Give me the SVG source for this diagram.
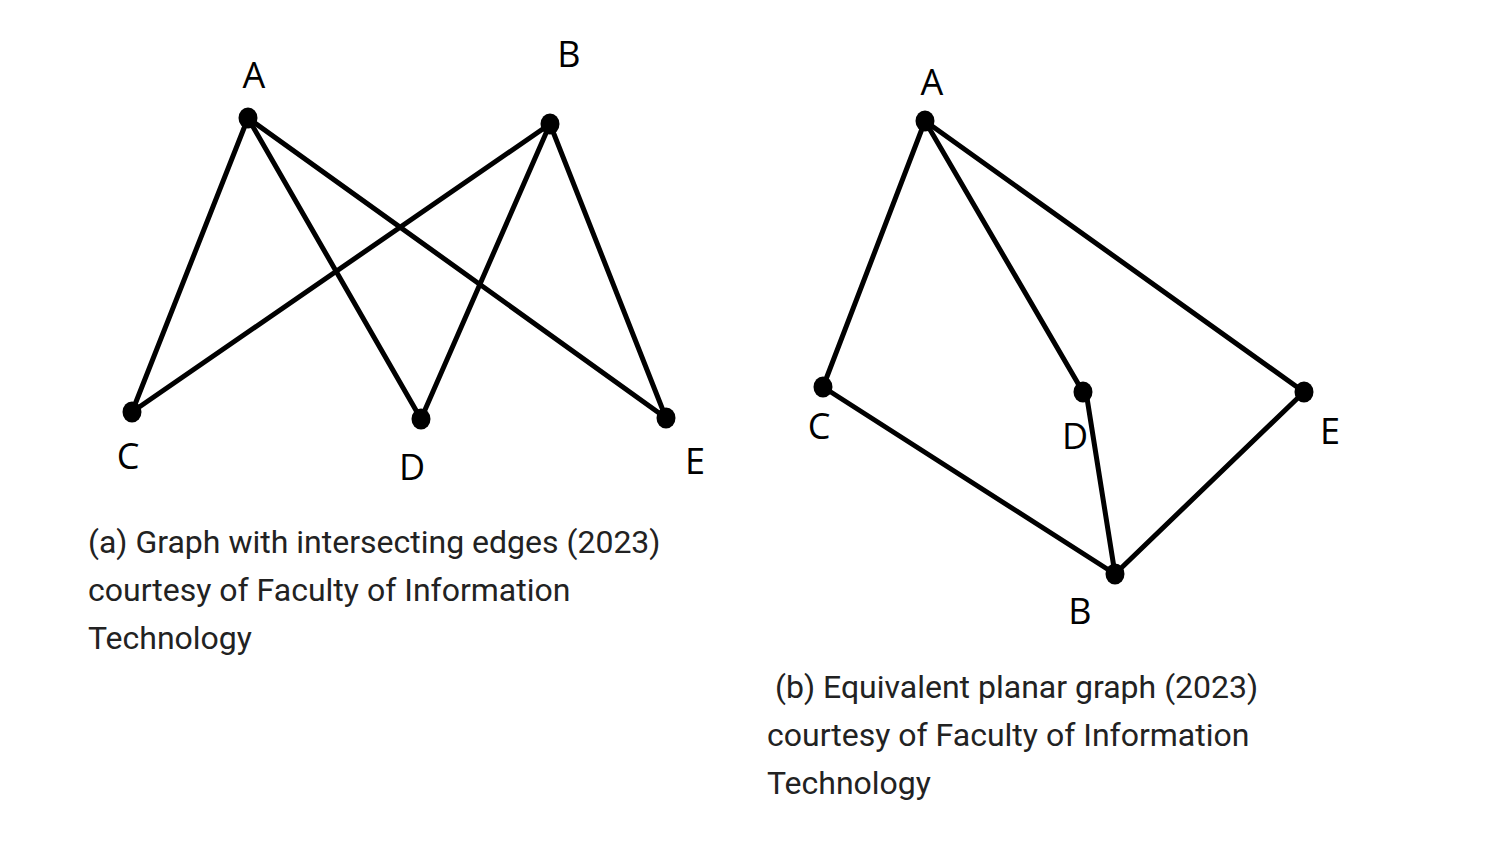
<svg xmlns="http://www.w3.org/2000/svg" width="1500" height="844" viewBox="0 0 1500 844">
<style>
.e{stroke:#000;stroke-width:5;fill:none;stroke-linecap:round}
.n{fill:#000}
.l{font-family:"Open Sans","DejaVu Sans",sans-serif;font-size:36px;fill:#000;text-anchor:middle}
.c{font-family:Roboto,"Liberation Sans",sans-serif;font-size:32px;fill:#222}
</style>
<rect width="1500" height="844" fill="#fff"/>
<g id="connectors">
<line class="e" x1="248" y1="118" x2="132" y2="412"/>
<line class="e" x1="248" y1="118" x2="421" y2="419"/>
<line class="e" x1="248" y1="118" x2="666" y2="418"/>
<line class="e" x1="550" y1="124" x2="132" y2="412"/>
<line class="e" x1="550" y1="124" x2="421" y2="419"/>
<line class="e" x1="550" y1="124" x2="666" y2="418"/>
<line class="e" x1="925" y1="121" x2="823" y2="387"/>
<line class="e" x1="925" y1="121" x2="1083" y2="392"/>
<line class="e" x1="925" y1="121" x2="1304" y2="392"/>
<line class="e" x1="823" y1="387" x2="1115" y2="574"/>
<line class="e" x1="1087" y1="398" x2="1115" y2="574"/>
<line class="e" x1="1304" y1="392" x2="1115" y2="574"/>
</g>
<g id="a-A"><ellipse class="n" cx="248" cy="118" rx="9.5" ry="10.5"/><text class="l" x="254" y="88">A</text></g>
<g id="a-B"><ellipse class="n" cx="550" cy="124" rx="9.5" ry="10.5"/><text class="l" x="569" y="67">B</text></g>
<g id="a-C"><ellipse class="n" cx="132" cy="412" rx="9.5" ry="10.5"/><text class="l" x="128" y="469">C</text></g>
<g id="a-D"><ellipse class="n" cx="421" cy="419" rx="9.5" ry="10.5"/><text class="l" x="412" y="480">D</text></g>
<g id="a-E"><ellipse class="n" cx="666" cy="418" rx="9.5" ry="10.5"/><text class="l" x="695" y="474">E</text></g>
<g id="b-A"><ellipse class="n" cx="925" cy="121" rx="9.5" ry="10.5"/><text class="l" x="932" y="95">A</text></g>
<g id="b-C"><ellipse class="n" cx="823" cy="387" rx="9.5" ry="10.5"/><text class="l" x="819" y="439">C</text></g>
<g id="b-D"><ellipse class="n" cx="1083" cy="392" rx="9.5" ry="10.5"/><text class="l" x="1075" y="449">D</text></g>
<g id="b-E"><ellipse class="n" cx="1304" cy="392" rx="9.5" ry="10.5"/><text class="l" x="1330" y="444">E</text></g>
<g id="b-B"><ellipse class="n" cx="1115" cy="574" rx="9.5" ry="10.5"/><text class="l" x="1080" y="624">B</text></g>
<g id="caption-a">
<text class="c" x="88" y="553">(a) Graph with intersecting edges (2023)</text>
<text class="c" x="88" y="601">courtesy of Faculty of Information</text>
<text class="c" x="88" y="649">Technology</text>
</g>
<g id="caption-b">
<text class="c" x="775" y="698">(b) Equivalent planar graph (2023)</text>
<text class="c" x="767" y="746">courtesy of Faculty of Information</text>
<text class="c" x="767" y="794">Technology</text>
</g>
</svg>
